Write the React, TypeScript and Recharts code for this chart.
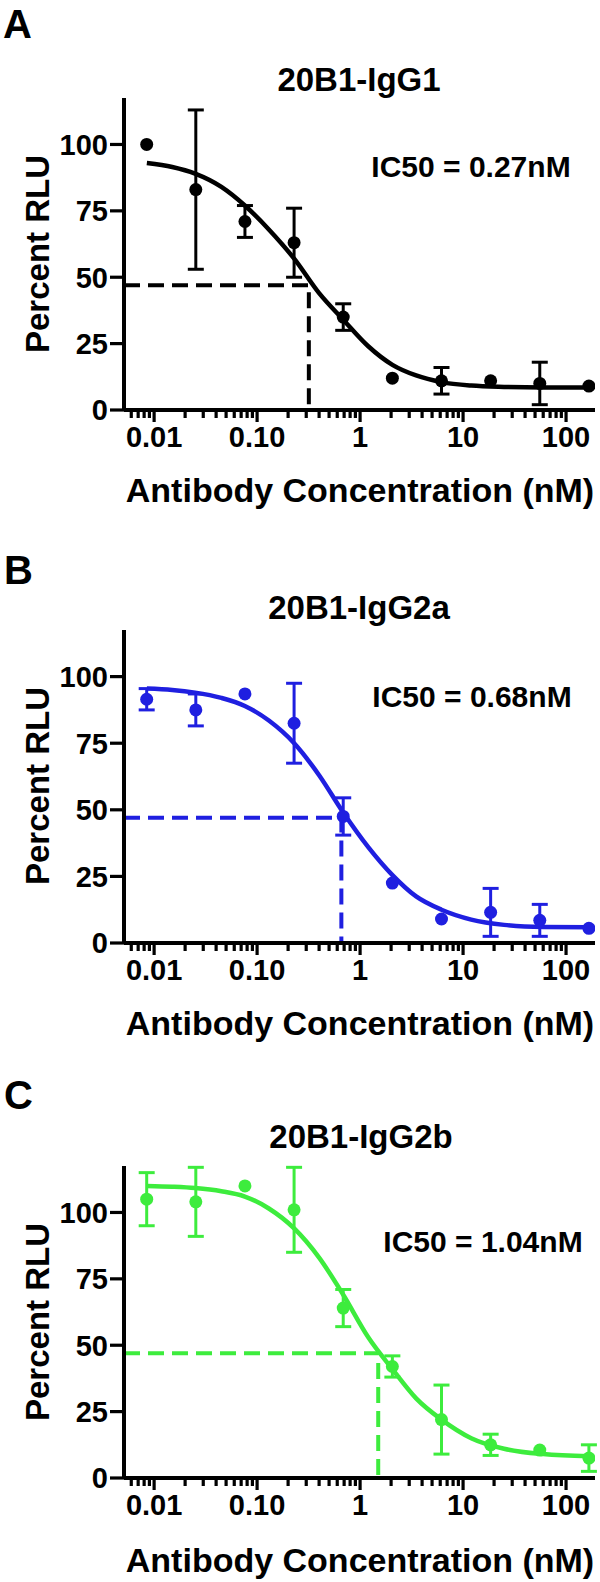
import React from 'react';
import { ComposedChart, Scatter, Line, XAxis, YAxis, ErrorBar } from 'recharts';

const FONT = '"Liberation Sans", Arial, Helvetica, sans-serif';

// 3-fold dilution series (nM)
const CONC = [0.00847, 0.0254, 0.0762, 0.2286, 0.6859, 2.058, 6.173, 18.52, 55.56, 166.67];

const A_MEAN = [100, 83, 71, 63, 35, 12, 11, 11, 10, 9];
const A_ERR = [0, 30, 6, 13, 5, 0, 5, 0, 8, 0];
const B_MEAN = [91.5, 87.5, 93.5, 82.5, 47.5, 22.5, 9, 11.5, 8.5, 5.5];
const B_ERR = [4, 6, 0, 15, 7, 0, 0, 9, 6, 0];
const C_MEAN = [105, 104, 110, 101, 64, 42, 22, 12.5, 10.5, 7.5];
const C_ERR = [10, 13, 0, 16, 7, 4, 13, 4, 0, 5];

// fitted curves
const CURVE_X = [0.0085, 0.015, 0.025, 0.045, 0.076, 0.13, 0.229, 0.4, 0.686, 1.2, 2.06, 3.5, 6.17, 12, 25, 60, 166.67];
const A_CURVE = [93, 91.5, 89, 84, 77, 68, 57, 44, 34, 24, 17, 13, 10.5, 9.2, 8.7, 8.5, 8.5];
const B_CURVE = [95.5, 95, 94, 92, 89, 83.5, 75, 63, 49, 36, 25.5, 17.5, 12.5, 8.8, 6.8, 6, 5.9];
const C_CURVE = [110, 109.7, 109.2, 108, 106, 101.5, 94, 83, 69, 53, 41, 30, 22, 15, 11, 9, 8.2];

// IC50 guide lines (x where the dashed line drops, y level)
const A_GUIDE = [0.318, 47];
const B_GUIDE = [0.658, 47];
const C_GUIDE = [1.5, 47];

const X_DOMAIN = [0.0051, 191];
const X_MAJOR = [0.01, 0.1, 1, 10, 100];
const X_MAJOR_LABELS = ['0.01', '0.10', '1', '10', '100'];
const X_MINOR = [
  0.006, 0.007, 0.008, 0.009,
  0.02, 0.03, 0.04, 0.05, 0.06, 0.07, 0.08, 0.09,
  0.2, 0.3, 0.4, 0.5, 0.6, 0.7, 0.8, 0.9,
  2, 3, 4, 5, 6, 7, 8, 9,
  20, 30, 40, 50, 60, 70, 80, 90,
];
const X_TICKS = [...X_MINOR, ...X_MAJOR].sort((a, b) => a - b);
const Y_TICKS = [0, 25, 50, 75, 100];
const Y_MAX = 117.5;

function XTick(props: any) {
  const { x, y, payload } = props;
  const i = X_MAJOR.indexOf(payload.value);
  const major = i >= 0;
  return (
    <g>
      <line x1={x} y1={y} x2={x} y2={y + (major ? 12 : 8)} stroke="#000" strokeWidth={3.2} />
      {major && (
        <text x={x} y={y + 37} textAnchor="middle" fontSize={29} fontWeight="bold" fontFamily={FONT} fill="#000">
          {X_MAJOR_LABELS[i]}
        </text>
      )}
    </g>
  );
}

interface PanelProps {
  top: number;
  height: number;
  plotTop: number;
  plotBottom: number;
  color: string;
  mean: number[];
  err: number[];
  curve: number[];
  guide: number[];
}

function Panel({ top, height, plotTop, plotBottom, color, mean, err, curve, guide }: PanelProps) {
  const pts = CONC.map((x, i) => ({ x, y: mean[i], e: err[i] }));
  const withErr = pts.filter((p) => p.e > 0);
  const noErr = pts.filter((p) => p.e === 0);
  const curveData = CURVE_X.map((x, i) => ({ x, y: curve[i] }));
  const guideData = [
    { x: X_DOMAIN[0], y: guide[1] },
    { x: guide[0], y: guide[1] },
    { x: guide[0], y: 0 },
  ];
  const dot = (p: any) => <circle cx={p.cx} cy={p.cy} r={6.5} fill={color} />;

  return (
    <div style={{ position: 'absolute', left: 0, top }}>
      <ComposedChart
        width={600}
        height={height}
        margin={{ top: plotTop - top, right: 5, bottom: 0, left: 0 }}
      >
        <XAxis
          type="number"
          dataKey="x"
          scale="log"
          domain={X_DOMAIN}
          allowDataOverflow
          ticks={X_TICKS}
          interval={0}
          tick={<XTick />}
          tickLine={false}
          tickSize={0}
          tickMargin={0}
          axisLine={{ stroke: '#000', strokeWidth: 4 }}
          height={top + height - plotBottom}
        />
        <YAxis
          type="number"
          dataKey="y"
          domain={[0, Y_MAX]}
          ticks={Y_TICKS}
          width={124}
          tickSize={14}
          tickMargin={2}
          tickLine={{ stroke: '#000', strokeWidth: 3.2 }}
          axisLine={{ stroke: '#000', strokeWidth: 4 }}
          tick={{ fontSize: 29, fontWeight: 'bold', fill: '#000', fontFamily: FONT }}
        />
        <Line
          data={guideData}
          dataKey="y"
          type="linear"
          stroke={color}
          strokeWidth={4}
          strokeDasharray="16 8"
          dot={false}
          isAnimationActive={false}
        />
        <Line
          data={curveData}
          dataKey="y"
          type="monotone"
          stroke={color}
          strokeWidth={4.5}
          dot={false}
          isAnimationActive={false}
        />
        <Scatter data={withErr} dataKey="y" shape={dot} isAnimationActive={false}>
          <ErrorBar dataKey="e" direction="y" width={8} stroke={color} strokeWidth={3} />
        </Scatter>
        <Scatter data={noErr} dataKey="y" shape={dot} isAnimationActive={false} />
      </ComposedChart>
    </div>
  );
}

const txt = { fontFamily: FONT, fontWeight: 'bold' as const, fill: '#000' };

export default function App() {
  return (
    <div style={{ position: 'absolute', left: 0, top: 0, width: 600, height: 1582, background: '#fff' }}>
      <Panel top={0} height={520} plotTop={98} plotBottom={410} color="#000000"
        mean={A_MEAN} err={A_ERR} curve={A_CURVE} guide={A_GUIDE} />
      <Panel top={530} height={520} plotTop={630} plotBottom={943} color="#1f1fe0"
        mean={B_MEAN} err={B_ERR} curve={B_CURVE} guide={B_GUIDE} />
      <Panel top={1060} height={522} plotTop={1166} plotBottom={1478} color="#3dec3d"
        mean={C_MEAN} err={C_ERR} curve={C_CURVE} guide={C_GUIDE} />

      <svg width={600} height={1582} style={{ position: 'absolute', left: 0, top: 0, pointerEvents: 'none' }}>
        <text x={3} y={38} fontSize={40} {...txt}>A</text>
        <text x={4} y={584} fontSize={40} {...txt}>B</text>
        <text x={4} y={1109} fontSize={40} {...txt}>C</text>

        <text x={359} y={91} fontSize={33} textAnchor="middle" {...txt}>20B1-IgG1</text>
        <text x={359} y={619} fontSize={33} textAnchor="middle" {...txt}>20B1-IgG2a</text>
        <text x={361} y={1148} fontSize={33} textAnchor="middle" {...txt}>20B1-IgG2b</text>

        <text x={471} y={177} fontSize={30} textAnchor="middle" {...txt}>IC50 = 0.27nM</text>
        <text x={472} y={707} fontSize={30} textAnchor="middle" {...txt}>IC50 = 0.68nM</text>
        <text x={483} y={1252} fontSize={30} textAnchor="middle" {...txt}>IC50 = 1.04nM</text>

        <text x={360} y={502} fontSize={34} textAnchor="middle" {...txt}>Antibody Concentration (nM)</text>
        <text x={360} y={1035} fontSize={34} textAnchor="middle" {...txt}>Antibody Concentration (nM)</text>
        <text x={360} y={1572} fontSize={34} textAnchor="middle" {...txt}>Antibody Concentration (nM)</text>

        <text x={49} y={254} fontSize={33} textAnchor="middle" transform="rotate(-90 49 254)" {...txt}>Percent RLU</text>
        <text x={49} y={786} fontSize={33} textAnchor="middle" transform="rotate(-90 49 786)" {...txt}>Percent RLU</text>
        <text x={49} y={1322} fontSize={33} textAnchor="middle" transform="rotate(-90 49 1322)" {...txt}>Percent RLU</text>
      </svg>
    </div>
  );
}
